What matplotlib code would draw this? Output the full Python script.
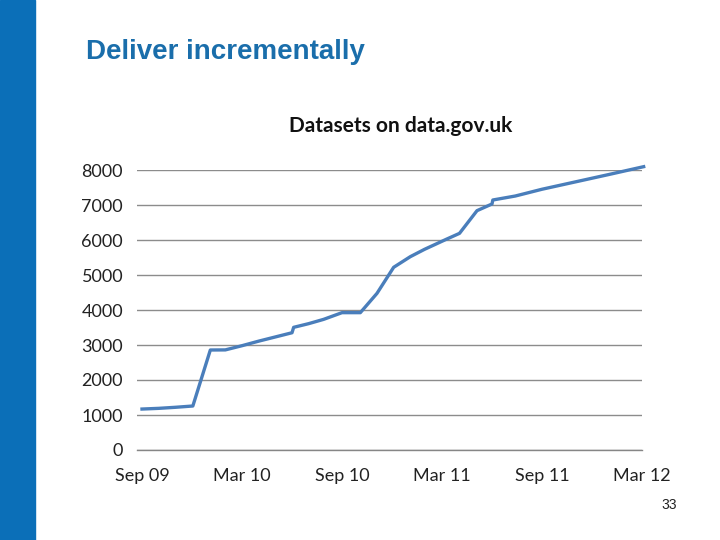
import numpy as np
import matplotlib
matplotlib.use("Agg")
import matplotlib.pyplot as plt

# months since Sep 2009, number of datasets
months = [0.0, 1.0, 2.0, 3.05, 4.1, 5.0, 6.0, 7.0, 8.0, 9.0, 9.1, 10.0, 10.9,
          12.0, 13.1, 14.1, 15.1, 16.1, 16.95, 18.25, 19.05, 20.1, 21.0, 21.05,
          22.4, 24.0, 26.0, 28.0, 30.1]
datasets = [1170, 1190, 1220, 1257, 2857, 2860, 2980, 3110, 3230, 3350, 3505,
            3610, 3733, 3924, 3924, 4476, 5220, 5524, 5733, 6019, 6190, 6838,
            7029, 7143, 7257, 7450, 7660, 7870, 8095]

tick_pos = [0, 6, 12, 18, 24, 30]
tick_labels = ["Sep 09", "Mar 10", "Sep 10", "Mar 11", "Sep 11", "Mar 12"]
y_ticks = [0, 1000, 2000, 3000, 4000, 5000, 6000, 7000, 8000]

fig = plt.figure(figsize=(7.2, 5.4), dpi=100)
fig.patch.set_facecolor("white")

# slide decoration
fig.patches.append(plt.Rectangle((0, 0), 35 / 720, 1, transform=fig.transFigure,
                                 color="#0b6fb8", zorder=0))
fig.text(86 / 720, 1 - 52 / 540, "Deliver incrementally", fontsize=20,
         fontweight="bold", color="#1a6eab", family="Liberation Sans",
         va="center", ha="left")
fig.text(677 / 720, 1 - 505 / 540, "33", fontsize=10, color="#222222",
         family="Liberation Sans", ha="right", va="center")

ax = fig.add_axes([137 / 720, 1 - 450 / 540, (642 - 137) / 720, (450 - 170) / 540])
ax.plot(months, datasets, color="#4a7ebb", lw=2.4, clip_on=False,
        solid_joinstyle="round", zorder=3)

ax.set_xlim(-0.3, 30)
ax.set_ylim(0, 8000)
ax.set_yticks(y_ticks)
ax.set_yticklabels([str(v) for v in y_ticks], family="Lato", fontsize=13,
                   color="#222222")
ax.set_xticks(tick_pos)
ax.set_xticklabels(tick_labels, family="Lato", fontsize=13, color="#222222")
ax.tick_params(axis="x", length=0, pad=13)
ax.tick_params(axis="y", length=0, pad=10)
ax.set_xticks([12, 30], minor=True)
ax.tick_params(axis="x", which="minor", length=5, color="#868686", direction="out")

ax.grid(axis="y", color="#8c8c8c", lw=1)
ax.set_axisbelow(True)
for s in ["top", "right", "left"]:
    ax.spines[s].set_visible(False)
ax.spines["bottom"].set_color("#868686")
ax.spines["bottom"].set_linewidth(1)

fig.text(401 / 720, 1 - 126 / 540, "Datasets on data.gov.uk", fontsize=15,
         fontweight="bold", family="Lato", color="#111111", ha="center",
         va="center")

fig.savefig("out.png", dpi=100)
